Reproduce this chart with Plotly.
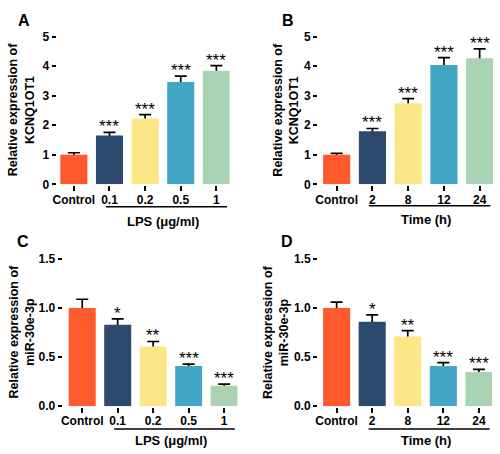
import plotly.graph_objects as go

# ---------------- data ----------------
lps_labels = ["Control", "0.1", "0.2", "0.5", "1"]
time_labels = ["Control", "2", "8", "12", "24"]
bar_colors = ["#FF5A2D", "#2B4A6E", "#FBE787", "#41A7C4", "#A8D4B4"]

kcnq_lps_mean = [1.00, 1.65, 2.23, 3.46, 3.84]
kcnq_lps_err = [0.07, 0.11, 0.13, 0.20, 0.18]
kcnq_lps_sig = ["", "***", "***", "***", "***"]

kcnq_time_mean = [1.00, 1.80, 2.74, 4.04, 4.27]
kcnq_time_err = [0.05, 0.09, 0.16, 0.25, 0.31]
kcnq_time_sig = ["", "***", "***", "***", "***"]

mir_lps_mean = [1.00, 0.83, 0.61, 0.41, 0.21]
mir_lps_err = [0.09, 0.06, 0.05, 0.02, 0.015]
mir_lps_sig = ["", "*", "**", "***", "***"]

mir_time_mean = [1.00, 0.86, 0.71, 0.41, 0.35]
mir_time_err = [0.06, 0.07, 0.06, 0.035, 0.025]
mir_time_sig = ["", "*", "**", "***", "***"]

y_ticks_kcnq = [0, 1, 2, 3, 4, 5]
y_ticks_mir = [0.0, 0.5, 1.0, 1.5]

FONT = "Liberation Sans, Arial, sans-serif"
W, H = 500, 454

def px(x):
    return x / W

def py(y):
    return 1 - y / H

panels = [
    dict(letter="A", cats=lps_labels, mean=kcnq_lps_mean, err=kcnq_lps_err, sig=kcnq_lps_sig,
         ytitle="Relative expression of<br>KCNQ1OT1", xtitle="LPS (μg/ml)",
         ticks=y_ticks_kcnq, yrange=[0, 5], fmt="d",
         xdom=[53, 227], ydom=[183, 30.5], xr=[-0.46, 4.375],
         ytx=17, letter_xy=(19, 14), underline_y=206, xt_y=221),
    dict(letter="B", cats=time_labels, mean=kcnq_time_mean, err=kcnq_time_err, sig=kcnq_time_sig,
         ytitle="Relative expression of<br>KCNQ1OT1", xtitle="Time (h)",
         ticks=y_ticks_kcnq, yrange=[0, 5], fmt="d",
         xdom=[317, 493], ydom=[183, 30.5], xr=[-0.5, 4.375],
         ytx=284, letter_xy=(286, 14), underline_y=205, xt_y=219),
    dict(letter="C", cats=lps_labels, mean=mir_lps_mean, err=mir_lps_err, sig=mir_lps_sig,
         ytitle="Relative expression of<br>miR-30e-3p", xtitle="LPS (μg/ml)",
         ticks=y_ticks_mir, yrange=[0, 1.5], fmt=".1f",
         xdom=[59, 235], ydom=[412, 260], xr=[-0.53, 4.38],
         ytx=17, letter_xy=(18, 242), underline_y=435.5, xt_y=447),
    dict(letter="D", cats=time_labels, mean=mir_time_mean, err=mir_time_err, sig=mir_time_sig,
         ytitle="Relative expression of<br>miR-30e-3p", xtitle="Time (h)",
         ticks=y_ticks_mir, yrange=[0, 1.5], fmt=".1f",
         xdom=[317, 492], ydom=[412, 260], xr=[-0.5, 4.37],
         ytx=273, letter_xy=(285, 242), underline_y=435.5, xt_y=447),
]

fig = go.Figure()
annotations = []
shapes = []
layout_axes = {}

for i, p in enumerate(panels, start=1):
    xa = "x" if i == 1 else f"x{i}"
    ya = "y" if i == 1 else f"y{i}"
    # error bars (drawn beneath the bars so only the upper half shows)
    fig.add_trace(go.Scatter(
        x=p["cats"], y=p["mean"], xaxis=xa, yaxis=ya, mode="markers",
        marker=dict(size=1, color="rgba(0,0,0,0)"),
        error_y=dict(type="data", array=p["err"], symmetric=True,
                     color="black", thickness=1.7, width=6),
        hoverinfo="skip", showlegend=False, zorder=0, cliponaxis=False,
    ))
    fig.add_trace(go.Bar(
        x=p["cats"], y=p["mean"], xaxis=xa, yaxis=ya,
        marker=dict(color=bar_colors, line=dict(width=0)),
        width=0.76, showlegend=False, zorder=1,
    ))

    layout_axes["xaxis" if i == 1 else f"xaxis{i}"] = dict(
        domain=[px(p["xdom"][0]), px(p["xdom"][1])], range=p["xr"],
        type="category", anchor=ya, showline=True, linecolor="black",
        linewidth=1.6, ticks="outside", ticklen=5, tickwidth=1.5,
        tickcolor="black", showgrid=False, zeroline=False,
        ticklabelstandoff=-2,
        tickfont=dict(family=FONT, size=12, color="black", weight="bold"),
        fixedrange=True,
    )
    layout_axes["yaxis" if i == 1 else f"yaxis{i}"] = dict(
        domain=[py(p["ydom"][0]), py(p["ydom"][1])], range=p["yrange"],
        anchor=xa, showline=True, linecolor="black", linewidth=1.6,
        ticks="outside", ticklen=4, tickwidth=1.5, tickcolor="black",
        tickvals=p["ticks"], tickformat=p["fmt"], showgrid=False,
        zeroline=False,
        tickfont=dict(family=FONT, size=12, color="black", weight="bold"),
        fixedrange=True,
    )

    # significance stars (x given as category index)
    for k, (m, e, s) in enumerate(zip(p["mean"], p["err"], p["sig"])):
        if s:
            annotations.append(dict(
                x=k, y=m + e, xref=xa, yref=ya, text=s, showarrow=False,
                yanchor="bottom", yshift=-6,
                font=dict(family=FONT, size=17, color="black"),
            ))

    # y-axis title
    annotations.append(dict(
        x=px(p["ytx"]), y=py((p["ydom"][0] + p["ydom"][1]) / 2 - 1),
        xref="paper", yref="paper", text=p["ytitle"], textangle=-90,
        showarrow=False, xanchor="center", yanchor="middle",
        font=dict(family=FONT, size=12.5, color="black", weight="bold"),
    ))
    # panel letter
    annotations.append(dict(
        x=px(p["letter_xy"][0]), y=py(p["letter_xy"][1]), xref="paper",
        yref="paper", text=p["letter"], showarrow=False,
        xanchor="center", yanchor="middle",
        font=dict(family=FONT, size=16, color="black", weight="bold"),
    ))
    # group title under bracket line
    annotations.append(dict(
        x=2.5, y=py(p["xt_y"]), xref=xa, yref="paper", text=p["xtitle"],
        showarrow=False, xanchor="center", yanchor="middle",
        font=dict(family=FONT, size=13, color="black", weight="bold"),
    ))
    shapes.append(dict(
        type="line", xref=xa, yref="paper", x0=0.9, x1=4.3,
        y0=py(p["underline_y"]), y1=py(p["underline_y"]),
        line=dict(color="black", width=1.5),
    ))

fig.update_layout(
    width=W, height=H, margin=dict(l=0, r=0, t=0, b=0),
    paper_bgcolor="white", plot_bgcolor="white",
    barmode="overlay", showlegend=False,
    annotations=annotations, shapes=shapes,
    font=dict(family=FONT, color="black"),
    **layout_axes,
)

fig.write_html(
    "out.html",
    config={"displayModeBar": False},
    post_script="document.body.style.margin='0';document.body.style.padding='0';",
)
